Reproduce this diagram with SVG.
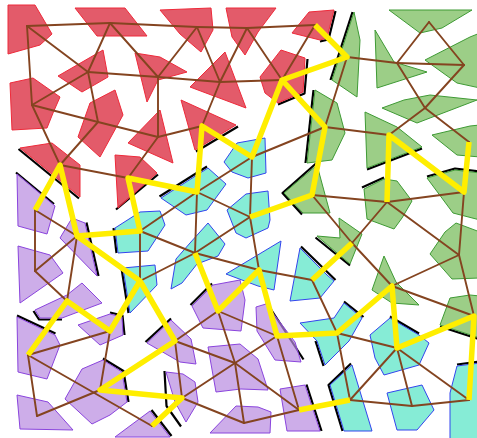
<svg xmlns="http://www.w3.org/2000/svg" width="477" height="438" viewBox="0 0 477 438">
<defs>
<filter id="bl" x="-20%" y="-20%" width="140%" height="140%"><feGaussianBlur stdDeviation="0.6"/></filter>
</defs>
<style>
.r{fill:#dc3245;fill-opacity:.8;stroke:#ee2a3a;stroke-width:1}
.g{fill:#7bbd5f;fill-opacity:.75;stroke:#3f9a35;stroke-width:1}
.c{fill:#5ee5c8;fill-opacity:.75;stroke:#3344ee;stroke-width:1}
.p{fill:#b88ae0;fill-opacity:.7;stroke:#8a44dd;stroke-width:1}
.sh{fill:none;stroke:#000;stroke-width:2.2;stroke-linejoin:round;filter:url(#bl)}
.e line{stroke:#844420;stroke-width:1.9;stroke-linecap:round}
.y polyline{fill:none;stroke:#ffee00;stroke-width:5.5;stroke-linejoin:round;stroke-linecap:butt}
</style>
<rect width="477" height="438" fill="#fff"/>
<g id="nodes">
<g id="n-r1"><polygon class="r" points="8,5 35,5 52,34 40,45 8,54"/></g>
<g id="n-r2"><polygon class="r" points="75,8 125,8 147,36 97,36"/></g>
<g id="n-r3"><polygon class="r" points="160,10 211,8 213,30 201,52 180,34"/></g>
<g id="n-r4"><polygon class="r" points="226,8 276,8 258,32 245,55 232,37"/></g>
<g id="n-r5"><polyline class="sh" points="335.5,11 328.5,39.5 320,41.5"/><polygon class="r" points="292,33 309,12 334,10 327,38 320,40"/></g>
<g id="n-r6"><polygon class="r" points="58,76 103,50 108,77 82,92"/></g>
<g id="n-r7"><polygon class="r" points="135,53 160,57 187,72 158,80 147,102"/></g>
<g id="n-r8"><polygon class="r" points="190,87 225,52 246,108"/></g>
<g id="n-r9"><polyline class="sh" points="307.5,59 304.5,93.5 278,104.5"/><polygon class="r" points="260,77 281,50 305,58 303,92 278,103 265,93"/></g>
<g id="n-r10"><polygon class="r" points="10,83 33,78 60,97 53,113 47,128 12,130"/></g>
<g id="n-r11"><polygon class="r" points="78,137 90,103 115,90 123,115 100,157"/></g>
<g id="n-r12"><polygon class="r" points="128,143 160,110 173,163"/></g>
<g id="n-r13"><polyline class="sh" points="238,126.5 196,151.5"/><polygon class="r" points="181,100 236,125 195,150"/></g>
<g id="n-r14"><polyline class="sh" points="79,198.5 18.5,149"/><polygon class="r" points="20,148 52,143 80,165 80,197"/></g>
<g id="n-r15"><polyline class="sh" points="158,174.5 116,209.5"/><polygon class="r" points="115,155 140,157 157,173 118,208"/></g>

<g id="n-g1"><polygon class="g" points="389,10 472,10 442,28 420,33"/></g>
<g id="n-g2"><polyline class="sh" points="352.5,12 330.5,80"/><polygon class="g" points="332,80 354,12 360,40 357,97"/></g>
<g id="n-g3"><polygon class="g" points="375,30 394,62 427,72 377,88"/></g>
<g id="n-g4"><polygon class="g" points="425,60 470,37 480,33 480,88 457,83"/></g>
<g id="n-g5"><polygon class="g" points="382,108 404,100 430,95 477,100 430,118 417,123"/></g>
<g id="n-g6"><polygon class="g" points="432,135 470,126 480,125 480,157 457,155"/></g>
<g id="n-g7"><polyline class="sh" points="313.5,90 305.5,163"/><polygon class="g" points="307,163 315,90 337,103 345,133 332,160"/></g>
<g id="n-g8"><polyline class="sh" points="367,169.5 422,148.5"/><polygon class="g" points="365,112 397,127 422,147 367,168"/></g>
<g id="n-g9"><polyline class="sh" points="427,176.5 455,168.5 480,171.5"/><polygon class="g" points="427,178 455,170 480,173 480,220 453,213"/></g>
<g id="n-g10"><polyline class="sh" points="316,163.5 282.5,193 302,214.5"/><polygon class="g" points="284,193 317,165 330,213 303,213"/></g>
<g id="n-g11"><polyline class="sh" points="362,187.5 384,177.5"/><polygon class="g" points="364,189 384,179 397,181 412,201 402,218 394,229 367,219"/></g>
<g id="n-g12"><polyline class="sh" points="315.5,237.5 350,265.5"/><polygon class="g" points="317,236 340,238 339,218 362,234 350,264"/></g>
<g id="n-g13"><polygon class="g" points="372,290 384,256 396,282 419,305 392,303"/></g>
<g id="n-g14"><polygon class="g" points="430,254 445,232 456,223 480,232 480,278 452,279"/></g>
<g id="n-g15"><polyline class="sh" points="440,326.5 480,339.5"/><polygon class="g" points="450,298 470,295 480,296 480,338 440,325"/></g>

<g id="n-c1"><polygon class="c" points="224,162 237,143 265,138 266,173 248,178 232,172"/></g>
<g id="n-c2"><polygon class="c" points="227,210 246,194 268,191 270,220 268,228 246,238 236,233"/></g>
<g id="n-c4"><polyline class="sh" points="159.5,196.5 207,166.5"/><polygon class="c" points="161,198 208,168 226,184 207,210 186,215"/></g>
<g id="n-c6"><polyline class="sh" points="113.5,228 116.5,253"/><polygon class="c" points="115,228 140,212 160,211 165,225 148,251 118,253"/></g>
<g id="n-c7"><polyline class="sh" points="121.5,268 128.5,313"/><polygon class="c" points="123,268 155,265 157,285 130,313"/></g>
<g id="n-c8"><polygon class="c" points="171,289 176,259 190,243 208,223 225,244 218,256 197,264 182,283"/></g>
<g id="n-c9"><polygon class="c" points="226,274 281,241 274,290 258,286"/></g>
<g id="n-c10"><polyline class="sh" points="301,246.5 335.5,280"/><polygon class="c" points="290,301 300,248 327,275 334,281 320,298"/></g>
<g id="n-c11"><polyline class="sh" points="344,301.5 363.5,317"/><polyline class="sh" points="315.5,341 323.5,366"/><polygon class="c" points="300,323 334,318 344,303 362,318 349,341 325,365 317,341"/></g>
<g id="n-c12"><polyline class="sh" points="390,316.5 419,333.5"/><polygon class="c" points="370,335 390,318 419,335 429,343 419,365 384,375 375,358"/></g>
<g id="n-c13"><polyline class="sh" points="351,363.5 328.5,385 342.5,431"/><polygon class="c" points="330,385 352,365 372,431 344,431"/></g>
<g id="n-c14"><polygon class="c" points="387,393 422,385 434,410 417,430 397,430"/></g>
<g id="n-c15"><polyline class="sh" points="457,364.5 480,361.5"/><polygon class="c" points="450,393 457,366 480,363 480,440 450,440"/></g>

<g id="n-p1"><polyline class="sh" points="16,172.5 54,204"/><polygon class="p" points="17,174 55,206 47,234 18,226"/></g>
<g id="n-p2"><polyline class="sh" points="86.5,222.5 98.5,276"/><polygon class="p" points="60,238 72,218 85,223 97,276"/></g>
<g id="n-p3"><polygon class="p" points="18,246 50,255 63,273 20,303"/></g>
<g id="n-p4"><polyline class="sh" points="33.5,311 39,319.5 62,319.5"/><polygon class="p" points="35,310 67,295 82,283 102,303 62,318 40,318"/></g>
<g id="n-p5"><polyline class="sh" points="110,312.5 122.5,315.5 124.5,335"/><polygon class="p" points="78,325 110,314 122,317 123,335 100,345"/></g>
<g id="n-p6"><polyline class="sh" points="17,315.5 55.5,333.5"/><polygon class="p" points="17,317 55,335 60,345 47,379 18,372"/></g>
<g id="n-p7"><polyline class="sh" points="103,358.5 123.5,371 128.5,402"/><polygon class="p" points="65,399 82,369 103,360 122,372 127,402 110,415 92,424"/></g>
<g id="n-p8"><polygon class="p" points="17,395 48,402 73,430 20,429"/></g>
<g id="n-p9"><polyline class="sh" points="151.5,410 171.5,436"/><polygon class="p" points="115,437 150,411 170,437"/></g>
<g id="n-p10"><polyline class="sh" points="145.5,342 171,318.5"/><polygon class="p" points="147,343 171,320 191,339 196,364 180,362"/></g>
<g id="n-p11"><polyline class="sh" points="164.5,371 166.5,406 181,426.5"/><polygon class="p" points="166,372 183,374 195,382 198,402 186,422 175,402"/></g>
<g id="n-p12"><polyline class="sh" points="190.5,305 212,283.5"/><polygon class="p" points="192,306 213,285 240,280 245,300 241,331 203,328"/></g>
<g id="n-p13"><polygon class="p" points="208,347 240,344 258,359 268,390 241,389 216,392"/></g>
<g id="n-p14"><polygon class="p" points="210,433 236,406 258,407 271,412 270,433"/></g>
<g id="n-p15"><polyline class="sh" points="266.5,302.5 303.5,359.5"/><polygon class="p" points="256,307 266,304 295,342 301,362 275,360 257,331"/></g>
<g id="n-p16"><polyline class="sh" points="306.5,384.5 321.5,431"/><polygon class="p" points="280,389 305,385 320,431 287,431"/></g>
</g>

<g id="connectors" class="e">
<line x1="27" y1="26" x2="110" y2="23"/>
<line x1="110" y1="23" x2="197" y2="27"/>
<line x1="197" y1="27" x2="247" y2="28"/>
<line x1="247" y1="28" x2="315" y2="25"/>
<line x1="27" y1="26" x2="88" y2="72"/>
<line x1="27" y1="26" x2="32" y2="105"/>
<line x1="110" y1="23" x2="88" y2="72"/>
<line x1="110" y1="23" x2="158" y2="77"/>
<line x1="197" y1="27" x2="158" y2="77"/>
<line x1="197" y1="27" x2="220" y2="82"/>
<line x1="88" y1="72" x2="158" y2="77"/>
<line x1="88" y1="72" x2="32" y2="105"/>
<line x1="88" y1="72" x2="98" y2="122"/>
<line x1="158" y1="77" x2="220" y2="82"/>
<line x1="158" y1="77" x2="158" y2="137"/>
<line x1="220" y1="82" x2="247" y2="28"/>
<line x1="220" y1="82" x2="282" y2="80"/>
<line x1="220" y1="82" x2="202" y2="126"/>
<line x1="32" y1="105" x2="98" y2="122"/>
<line x1="32" y1="105" x2="60" y2="165"/>
<line x1="98" y1="122" x2="158" y2="137"/>
<line x1="98" y1="122" x2="60" y2="165"/>
<line x1="158" y1="137" x2="202" y2="126"/>
<line x1="158" y1="137" x2="128" y2="178"/>
<line x1="60" y1="165" x2="128" y2="178"/>
<line x1="128" y1="178" x2="197" y2="192"/>
<line x1="128" y1="178" x2="140" y2="231"/>
<line x1="197" y1="192" x2="202" y2="126"/>
<line x1="197" y1="192" x2="252" y2="157"/>
<line x1="197" y1="192" x2="195" y2="253"/>
<line x1="197" y1="192" x2="140" y2="231"/>
<line x1="197" y1="192" x2="250" y2="217"/>
<line x1="247" y1="28" x2="282" y2="80"/>
<line x1="315" y1="25" x2="282" y2="80"/>
<line x1="315" y1="25" x2="347" y2="57"/>
<line x1="347" y1="57" x2="282" y2="80"/>
<line x1="347" y1="57" x2="397" y2="63"/>
<line x1="347" y1="57" x2="325" y2="127"/>
<line x1="282" y1="80" x2="325" y2="127"/>
<line x1="282" y1="80" x2="252" y2="157"/>
<line x1="397" y1="63" x2="429" y2="22"/>
<line x1="397" y1="63" x2="464" y2="65"/>
<line x1="397" y1="63" x2="425" y2="108"/>
<line x1="429" y1="22" x2="464" y2="65"/>
<line x1="464" y1="65" x2="425" y2="108"/>
<line x1="425" y1="108" x2="389" y2="135"/>
<line x1="425" y1="108" x2="469" y2="142"/>
<line x1="325" y1="127" x2="389" y2="135"/>
<line x1="325" y1="127" x2="252" y2="157"/>
<line x1="325" y1="127" x2="312" y2="195"/>
<line x1="389" y1="135" x2="387" y2="202"/>
<line x1="389" y1="135" x2="464" y2="192"/>
<line x1="469" y1="142" x2="464" y2="192"/>
<line x1="252" y1="157" x2="250" y2="217"/>
<line x1="252" y1="157" x2="202" y2="126"/>
<line x1="312" y1="195" x2="387" y2="202"/>
<line x1="312" y1="195" x2="250" y2="217"/>
<line x1="312" y1="195" x2="352" y2="243"/>
<line x1="387" y1="202" x2="464" y2="192"/>
<line x1="387" y1="202" x2="352" y2="243"/>
<line x1="387" y1="202" x2="459" y2="255"/>
<line x1="464" y1="192" x2="459" y2="255"/>
<line x1="35" y1="210" x2="60" y2="165"/>
<line x1="35" y1="210" x2="35" y2="271"/>
<line x1="35" y1="210" x2="77" y2="236"/>
<line x1="60" y1="165" x2="77" y2="236"/>
<line x1="35" y1="271" x2="77" y2="236"/>
<line x1="35" y1="271" x2="67" y2="301"/>
<line x1="77" y1="236" x2="67" y2="301"/>
<line x1="77" y1="236" x2="140" y2="231"/>
<line x1="77" y1="236" x2="140" y2="281"/>
<line x1="140" y1="231" x2="140" y2="281"/>
<line x1="140" y1="231" x2="195" y2="253"/>
<line x1="140" y1="281" x2="195" y2="253"/>
<line x1="140" y1="281" x2="110" y2="331"/>
<line x1="140" y1="281" x2="175" y2="341"/>
<line x1="67" y1="301" x2="110" y2="331"/>
<line x1="67" y1="301" x2="28" y2="355"/>
<line x1="110" y1="331" x2="28" y2="355"/>
<line x1="110" y1="331" x2="100" y2="390"/>
<line x1="28" y1="355" x2="37" y2="416"/>
<line x1="28" y1="355" x2="152" y2="426"/>
<line x1="175" y1="341" x2="100" y2="390"/>
<line x1="175" y1="341" x2="182" y2="398"/>
<line x1="175" y1="341" x2="218" y2="311"/>
<line x1="175" y1="341" x2="235" y2="363"/>
<line x1="100" y1="390" x2="182" y2="398"/>
<line x1="100" y1="390" x2="37" y2="416"/>
<line x1="182" y1="398" x2="152" y2="426"/>
<line x1="182" y1="398" x2="235" y2="363"/>
<line x1="182" y1="398" x2="244" y2="423"/>
<line x1="195" y1="253" x2="218" y2="311"/>
<line x1="195" y1="253" x2="250" y2="217"/>
<line x1="195" y1="253" x2="259" y2="270"/>
<line x1="218" y1="311" x2="235" y2="363"/>
<line x1="218" y1="311" x2="259" y2="270"/>
<line x1="218" y1="311" x2="277" y2="336"/>
<line x1="235" y1="363" x2="277" y2="336"/>
<line x1="235" y1="363" x2="299" y2="410"/>
<line x1="235" y1="363" x2="244" y2="423"/>
<line x1="250" y1="217" x2="259" y2="270"/>
<line x1="259" y1="270" x2="312" y2="280"/>
<line x1="259" y1="270" x2="277" y2="336"/>
<line x1="312" y1="280" x2="337" y2="333"/>
<line x1="312" y1="280" x2="352" y2="243"/>
<line x1="352" y1="243" x2="392" y2="286"/>
<line x1="459" y1="255" x2="392" y2="286"/>
<line x1="459" y1="255" x2="474" y2="316"/>
<line x1="392" y1="286" x2="474" y2="316"/>
<line x1="392" y1="286" x2="337" y2="333"/>
<line x1="392" y1="286" x2="397" y2="348"/>
<line x1="474" y1="316" x2="397" y2="348"/>
<line x1="474" y1="316" x2="469" y2="400"/>
<line x1="337" y1="333" x2="277" y2="336"/>
<line x1="337" y1="333" x2="397" y2="348"/>
<line x1="337" y1="333" x2="350" y2="400"/>
<line x1="277" y1="336" x2="299" y2="410"/>
<line x1="397" y1="348" x2="350" y2="400"/>
<line x1="397" y1="348" x2="412" y2="406"/>
<line x1="397" y1="348" x2="469" y2="400"/>
<line x1="350" y1="400" x2="299" y2="410"/>
<line x1="350" y1="400" x2="412" y2="406"/>
<line x1="299" y1="410" x2="244" y2="423"/>
<line x1="412" y1="406" x2="469" y2="400"/>
</g>

<g id="highlight" class="y">
<polyline points="315,25 347,57 282,80 252,157 202,126 197,192 128,178 140,231 77,236 60,165 35,210"/>
<polyline points="282,80 325,127 312,195 250,217"/>
<polyline points="77,236 140,281 175,341 100,390 182,398 152,426"/>
<polyline points="140,281 110,331 67,301 28,355"/>
<polyline points="195,253 218,311 259,270 277,336 337,333 392,286 397,348 474,316 469,400"/>
<polyline points="352,243 312,280"/>
<polyline points="299,410 350,400"/>
<polyline points="387,202 389,135 464,192 469,142"/>
</g>
</svg>
